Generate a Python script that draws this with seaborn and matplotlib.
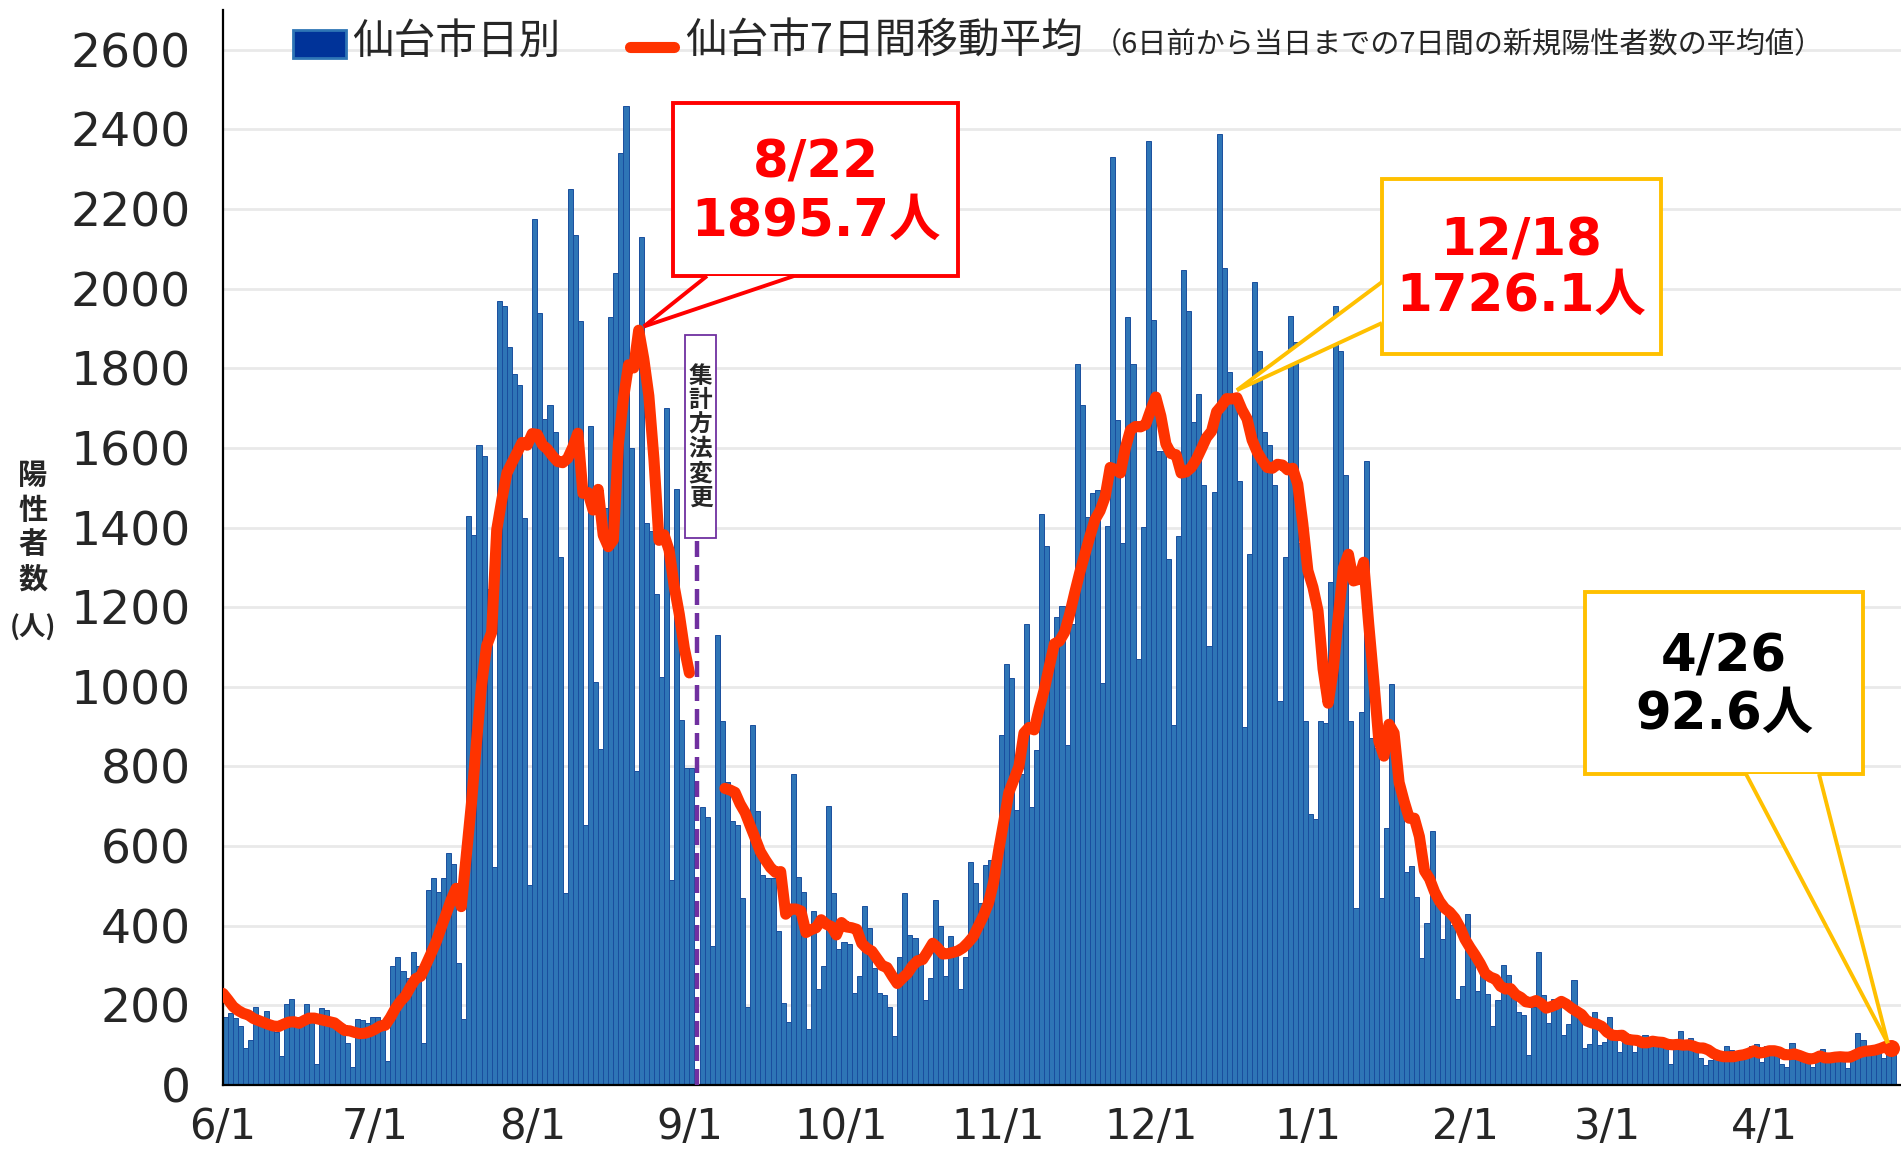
import numpy as np
import pandas as pd
import matplotlib
matplotlib.use("Agg")
import matplotlib.pyplot as plt
import seaborn as sns
from matplotlib.patches import Rectangle, Polygon
from matplotlib.lines import Line2D

start_date = "2022-06-01"

# daily new cases (Sendai)
jun = [172, 180, 168, 147, 92, 113, 197, 172, 186, 142, 134, 73, 203, 215, 155, 147, 203, 163, 54, 193, 188, 150, 138, 134, 105, 46, 166, 163, 155, 172]
jul = [170, 163, 61, 299, 322, 286, 268, 333, 300, 106, 490, 520, 486, 520, 582, 554, 306, 167, 1429, 1382, 1608, 1581, 1245, 548, 1970, 1957, 1853, 1785, 1758, 1424, 503]
aug = [2175, 1938, 1672, 1709, 1640, 1326, 481, 2251, 2134, 1918, 653, 1656, 1013, 845, 1450, 1930, 2039, 2341, 2460, 1599, 788, 2129, 1411, 1392, 1232, 1024, 1700, 514, 1498, 918, 796]
sep = [797, 0, 697, 672, 350, 1131, 913, 761, 664, 652, 469, 195, 905, 688, 527, 520, 520, 386, 206, 157, 780, 523, 485, 141, 437, 242, 298, 700, 482, 341]
oct_ = [358, 355, 230, 274, 450, 394, 293, 232, 226, 197, 124, 321, 482, 377, 368, 316, 214, 268, 465, 400, 274, 373, 339, 240, 322, 559, 507, 456, 553, 565, 603]
nov = [880, 1057, 1022, 690, 780, 1157, 697, 842, 1433, 1353, 1100, 1176, 1202, 855, 1157, 1810, 1707, 1427, 1488, 1494, 1009, 1404, 2330, 1671, 1362, 1928, 1812, 1069, 1401, 2370]
dec = [1922, 1592, 1592, 1321, 905, 1380, 2047, 1945, 1666, 1736, 1506, 1103, 1490, 2389, 2052, 1791, 1733, 1517, 899, 1333, 2016, 1843, 1639, 1608, 1506, 965, 1325, 1932, 1867, 1362, 913]
jan = [680, 669, 914, 909, 1263, 1956, 1843, 1531, 914, 445, 936, 1567, 871, 846, 469, 646, 1007, 780, 700, 535, 551, 472, 320, 408, 639, 469, 367, 433, 401, 215, 248]
feb = [429, 322, 235, 285, 228, 147, 214, 302, 276, 239, 184, 176, 75, 197, 335, 226, 155, 215, 214, 126, 152, 264, 172, 94, 103, 183, 101, 109]
mar = [170, 115, 84, 115, 113, 84, 105, 126, 113, 113, 105, 100, 54, 96, 136, 96, 117, 88, 67, 50, 63, 71, 63, 98, 88, 67, 71, 75, 98, 103, 59]
apr = [98, 96, 75, 54, 46, 106, 71, 67, 63, 46, 71, 90, 71, 71, 75, 70, 42, 71, 131, 113, 96, 80, 84, 67, 105, 100]

# 7-day moving average, before the method change (6/1 - 9/1)
avg_before = [230, 214, 197, 187, 180, 176, 167, 162, 157, 152, 148, 147, 153, 158, 159, 155, 162, 168, 168, 165,
              162, 159, 156, 146, 137, 136, 132, 129, 130, 134,
              140, 148, 150, 169, 192, 210, 224, 247, 267, 273, 301, 329, 358, 394, 429, 465, 494, 448, 578, 706,
              861, 1004, 1103, 1137, 1395, 1470, 1537, 1563, 1588, 1614, 1607,
              1636, 1634, 1608, 1597, 1580, 1566, 1563, 1574, 1602, 1637, 1486, 1488, 1444, 1496, 1381, 1352,
              1369, 1611, 1725, 1809, 1801, 1895.7, 1824, 1731, 1573, 1368, 1382, 1343, 1253, 1183, 1097,
              1035]
# 7-day moving average, after the method change (9/8 - 4/26)
avg_after = [745, 741, 735, 706, 684, 651, 619, 586, 565, 546, 534, 536, 429, 442,
             442, 437, 383, 390, 395, 415, 404, 398, 377, 408,
             397, 395, 391, 356, 343, 336, 318, 300, 295, 274,
             255, 268, 280, 299, 312, 315, 335, 356, 344, 329,
             330, 333, 337, 345, 358, 373, 399, 425, 457, 509,
             589, 660, 734, 767, 800, 884, 898, 892, 946, 993,
             1052, 1108, 1115, 1137, 1182, 1236, 1287, 1333, 1378, 1420,
             1442, 1477, 1551, 1546, 1537, 1600, 1645, 1654, 1653, 1659,
             1695, 1728, 1680, 1610, 1586, 1583, 1537, 1540, 1551, 1571,
             1598, 1626, 1642, 1691, 1706, 1724, 1723, 1726.1, 1696, 1673,
             1620, 1590, 1569, 1551, 1549, 1559, 1557, 1545, 1549, 1509,
             1410, 1292, 1250, 1191, 1045, 959, 1043, 1176, 1298, 1333,
             1266, 1270, 1313, 1158, 1016, 864, 826, 906, 884, 760,
             712, 670, 670, 624, 538, 518, 485, 461, 444, 434,
             419, 396, 366, 345, 326, 305, 280, 271, 266, 248,
             241, 242, 227, 220, 209, 207, 212, 205, 193, 197,
             202, 210, 203, 193, 185, 177, 161, 156, 153, 147,
             133, 125, 124, 125, 115, 113, 112, 106, 106, 110,
             108, 107, 102, 101, 102, 100, 101, 98, 93, 93,
             88, 79, 74, 71, 71, 71, 74, 76, 80, 86,
             80, 82, 86, 86, 83, 76, 76, 78, 74, 69,
             65, 67, 73, 68, 68, 70, 71, 70, 70, 76,
             82, 85, 86, 88, 92, 97, 92.6]

legend_daily = "仙台市日別"
legend_avg = "仙台市7日間移動平均"
legend_note = "（6日前から当日までの7日間の新規陽性者数の平均値）"
change_label = "集計方法変更"
ylabel_text = "陽性者数"
ylabel_unit = "(人)"

daily = jun + jul + aug + sep + oct_ + nov + dec + jan + feb + mar + apr
n = len(daily)
dates = pd.date_range(start_date, periods=n, freq="D")
x_before = np.arange(len(avg_before))
x_after = np.arange(n - len(avg_after), n)

W, H = 1901, 1152
sns.set_style("white")
plt.rcParams["font.family"] = ["DejaVu Sans", "Noto Sans CJK JP"]
fig = plt.figure(figsize=(W / 100, H / 100), dpi=100)
fig.patch.set_facecolor("white")
ax = fig.add_axes([223 / W, 1 - 1085 / H, (W - 223) / W, (1085 - 10) / H])

df = pd.DataFrame({"day": np.arange(n) + 0.5, "count": daily})
sns.barplot(data=df, x="day", y="count", native_scale=True, width=1.0,
            color="#2E75B6", saturation=1, edgecolor="#1A4E9E", linewidth=0.7,
            errorbar=None, ax=ax, zorder=2)

sns.lineplot(x=x_before, y=avg_before, color="#FF3300", linewidth=8, ax=ax, zorder=4,
             solid_capstyle="round", solid_joinstyle="round")
sns.lineplot(x=x_after, y=avg_after, color="#FF3300", linewidth=8, ax=ax, zorder=4,
             solid_capstyle="round", solid_joinstyle="round")
sns.scatterplot(x=[x_after[-1]], y=[avg_after[-1]], s=150, color="#FF3300", linewidth=0, ax=ax, zorder=5)

ax.set_xlim(0, 331)
ax.set_ylim(0, 2700)
ax.set_xlabel("")
ax.set_ylabel("")
ax.set_yticks(np.arange(0, 2601, 200))
tick_pos = [i for i, d in enumerate(dates) if d.day == 1]
ax.set_xticks(tick_pos)
ax.set_xticklabels([f"{dates[i].month}/{dates[i].day}" for i in tick_pos])
ax.yaxis.grid(True, color="#E9E9E9", linewidth=2)
ax.xaxis.grid(False)
ax.set_axisbelow(True)
for sp in ["top", "right"]:
    ax.spines[sp].set_visible(False)
for sp in ["left", "bottom"]:
    ax.spines[sp].set_color("black")
    ax.spines[sp].set_linewidth(1.6)
ax.tick_params(axis="y", which="major", direction="out", length=9, width=1.6,
               color="black", labelsize=34, pad=14)
ax.tick_params(axis="x", which="major", direction="out", length=9, width=1.6,
               color="black", labelsize=30, pad=6)
for lab in ax.get_yticklabels() + ax.get_xticklabels():
    lab.set_family("DejaVu Sans")

def fp(x, y):
    return (x / W, 1 - y / H)

def d2f(xd, yd):
    return fig.transFigure.inverted().transform(ax.transData.transform((xd, yd)))

cjk = ["Noto Sans CJK JP", "DejaVu Sans"]
mix = ["DejaVu Sans", "Noto Sans CJK JP"]

# method-change marker
ax.vlines(93.5, 0, 1372, colors="#7030A0", linewidth=3.2, linestyles=(0, (3.6, 1.8)), zorder=6)
bx0, by0 = fp(685, 538)
bx1, by1 = fp(716, 335)
fig.add_artist(Rectangle((bx0, by0), bx1 - bx0, by1 - by0, transform=fig.transFigure,
                         facecolor="white", edgecolor="#7030A0", linewidth=1.3, zorder=7))
fig.text((bx0 + bx1) / 2, (by0 + by1) / 2, "\n".join(change_label), ha="center", va="center",
         fontsize=17, family=cjk, weight="bold", linespacing=1.02, zorder=8)

def callout(box, base1, base2, tip_data, color, lines, tcolor):
    (x0, y0), (x1, y1) = fp(box[0], box[3]), fp(box[2], box[1])
    fig.add_artist(Rectangle((x0, y0), x1 - x0, y1 - y0, transform=fig.transFigure,
                             facecolor="white", edgecolor=color, linewidth=2.8, zorder=9))
    b1 = fp(*base1)
    b2 = fp(*base2)
    tip = d2f(*tip_data)
    fig.add_artist(Polygon([b1, tip, b2], closed=True, transform=fig.transFigure,
                           facecolor="white", edgecolor="none", zorder=10))
    for b in (b1, b2):
        fig.add_artist(Line2D([b[0], tip[0]], [b[1], tip[1]], transform=fig.transFigure,
                              color=color, linewidth=2.8, zorder=11, solid_capstyle="butt"))
    cx = (x0 + x1) / 2
    for (ty, txt) in lines:
        fig.text(cx, 1 - ty / H, txt, ha="center", va="center", fontsize=37,
                 family=mix, weight="bold", color=tcolor, zorder=12)

callout((673, 103, 958, 276), (707, 276), (794, 276), (83.0, 1905), "#FF0000",
        [(164, "8/22"), (222, "1895.7人")], "#FF0000")
callout((1382, 179, 1661, 354), (1382, 282), (1382, 323), (200.0, 1745), "#FFC000",
        [(242, "12/18"), (297, "1726.1人")], "#FF0000")
callout((1585, 592, 1863, 774), (1746, 774), (1819, 774), (328.4, 105), "#FFC000",
        [(658, "4/26"), (715, "92.6人")], "#000000")

# legend
lx0, ly0 = fp(293, 58)
lx1, ly1 = fp(346, 30)
fig.add_artist(Rectangle((lx0, ly0), lx1 - lx0, ly1 - ly0, transform=fig.transFigure,
                         facecolor="#003399", edgecolor="#2E75B6", linewidth=2, zorder=9))
fig.text(352 / W, 1 - 42 / H, legend_daily, ha="left", va="center", fontsize=30, family=cjk, zorder=9)
fig.add_artist(Line2D([630 / W, 674 / W], [1 - 47 / H, 1 - 47 / H], transform=fig.transFigure,
                      color="#FF3300", linewidth=8, solid_capstyle="round", zorder=9))
fig.text(685 / W, 1 - 42 / H, legend_avg, ha="left", va="center", fontsize=30, family=cjk, zorder=9)
fig.text(1093 / W, 1 - 45 / H, legend_note, ha="left", va="center",
         fontsize=21, family=cjk, zorder=9)

# y label
fig.text(33 / W, 1 - 527 / H, "\n".join(ylabel_text), ha="center", va="center", fontsize=21,
         family=cjk, weight="bold", linespacing=1.2)
fig.text(33 / W, 1 - 628 / H, ylabel_unit, ha="center", va="center", fontsize=19, family=cjk, weight="bold")

fig.savefig("out.png", dpi=100, facecolor="white")
